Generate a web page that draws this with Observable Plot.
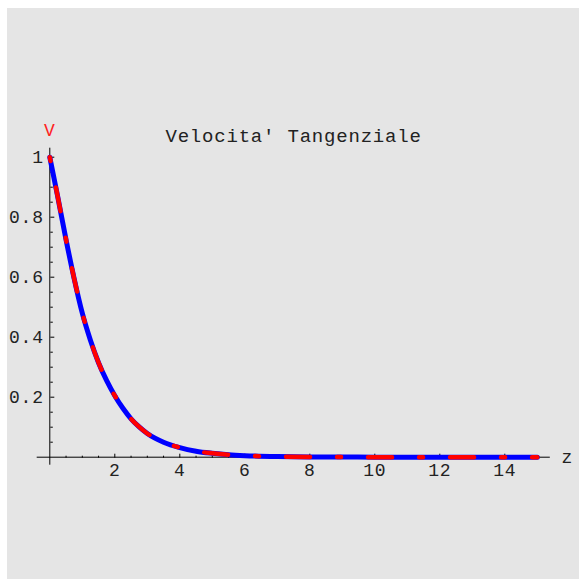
<!DOCTYPE html>
<html><head><meta charset="utf-8">
<script src="https://cdn.jsdelivr.net/npm/d3@7"></script>
<script src="https://cdn.jsdelivr.net/npm/@observablehq/plot@0.6"></script>
<style>
html,body{margin:0;padding:0;background:#fff;}
#wrap{position:relative;width:579px;height:579px;overflow:hidden;}
#bg{position:absolute;left:7px;top:8px;right:0;bottom:0;background:#e5e5e5;}
#chart{position:absolute;left:0;top:0;}
</style></head><body>
<div id="wrap"><div id="bg"></div><div id="chart"></div></div>
<script>
const titleText = "Velocita' Tangenziale";
const yLabel = "V";
const xLabel = "z";
const z = [0, 0.25, 0.5, 0.75, 1, 1.25, 1.5, 1.75, 2, 2.25, 2.5, 2.75, 3, 3.5, 4, 4.5, 5, 5.5, 6, 7, 8, 9, 10, 11, 12, 13, 14, 15];
const vSolid = [1, 0.865, 0.725, 0.595, 0.48, 0.39, 0.315, 0.255, 0.205, 0.163, 0.128, 0.101, 0.079, 0.05, 0.032, 0.02, 0.013, 0.008, 0.005, 0.002, 0.001, 0.0005, 0.0002, 0.0001, 0, 0, 0, 0];
const vDashed = [1, 0.865, 0.725, 0.595, 0.48, 0.39, 0.315, 0.255, 0.205, 0.163, 0.128, 0.101, 0.079, 0.05, 0.032, 0.02, 0.013, 0.008, 0.005, 0.002, 0.001, 0.0005, 0.0002, 0.0001, 0, 0, 0, 0];
const xTicks = [2, 4, 6, 8, 10, 12, 14];
const xMinorTicks = [0.5, 1, 1.5, 2.5, 3, 3.5, 4.5, 5, 5.5, 6.5, 7, 7.5, 8.5, 9, 9.5, 10.5, 11, 11.5, 12.5, 13, 13.5, 14.5, 15];
const yTicks = [0.2, 0.4, 0.6, 0.8, 1];
const yMinorTicks = [0.05, 0.1, 0.15, 0.25, 0.3, 0.35, 0.45, 0.5, 0.55, 0.65, 0.7, 0.75, 0.85, 0.9, 0.95];

const data = z.map((zz, i) => ({z: zz, v: vSolid[i], w: vDashed[i]}));
const font = "Liberation Mono, DejaVu Sans Mono, monospace";

const chart = Plot.plot({
  width: 579, height: 579,
  marginLeft: 49.3, marginRight: 42.2, marginTop: 156.7, marginBottom: 122.3,
  x: {domain: [0, 15]},
  y: {domain: [0, 1]},
  style: {background: "transparent", fontFamily: font, fontSize: "18px", color: "#222", overflow: "visible", letterSpacing: "0.8px"},
  marks: [
    Plot.ruleY([0], {stroke: "#000", strokeWidth: 1, insetLeft: -12.6, insetRight: -13}),
    Plot.ruleX([0], {stroke: "#000", strokeWidth: 1, insetTop: -9, insetBottom: -8}),
    Plot.axisX(xMinorTicks, {anchor: "top", frameAnchor: "bottom", tickSize: 2, tickFormat: () => "", label: null, stroke: "#000"}),
    Plot.axisX(xTicks, {anchor: "top", frameAnchor: "bottom", tickSize: 4, tickFormat: () => "", label: null, stroke: "#000"}),
    Plot.axisX(xTicks, {anchor: "bottom", tickSize: 0, tickPadding: 6, tickFormat: d => String(d), label: null, fontSize: 18, fill: "#222"}),
    Plot.axisY(yMinorTicks, {anchor: "right", frameAnchor: "left", tickSize: 2.5, tickFormat: () => "", label: null, stroke: "#000"}),
    Plot.axisY(yTicks, {anchor: "right", frameAnchor: "left", tickSize: 4, tickFormat: () => "", label: null, stroke: "#000"}),
    Plot.axisY(yTicks, {anchor: "left", tickSize: 0, tickPadding: 6, tickFormat: d => String(d), label: null, fontSize: 18, fill: "#222"}),
    Plot.line(data, {x: "z", y: "v", stroke: "#0000ff", strokeWidth: 5, curve: "monotone-x", strokeLinecap: "round"}),
    Plot.line(data, {x: "z", y: "w", stroke: "#ff0000", strokeWidth: 4.5, strokeDasharray: "4 27 24 27", strokeLinecap: "round", curve: "monotone-x"}),
    Plot.text([titleText], {text: d => d, frameAnchor: "top", dy: -28.7, fontSize: 19, fill: "#222", letterSpacing: "0.5px"}),
    Plot.text([yLabel], {text: d => d, x: () => 0, frameAnchor: "top", dy: -34, fontSize: 18, fill: "#f22"}),
    Plot.text([xLabel], {text: d => d, y: () => 0, frameAnchor: "right", dx: 35.7, dy: 0.5, fontSize: 18, fill: "#222"})
  ]
});
document.getElementById("chart").appendChild(chart);
</script>
</body></html>
